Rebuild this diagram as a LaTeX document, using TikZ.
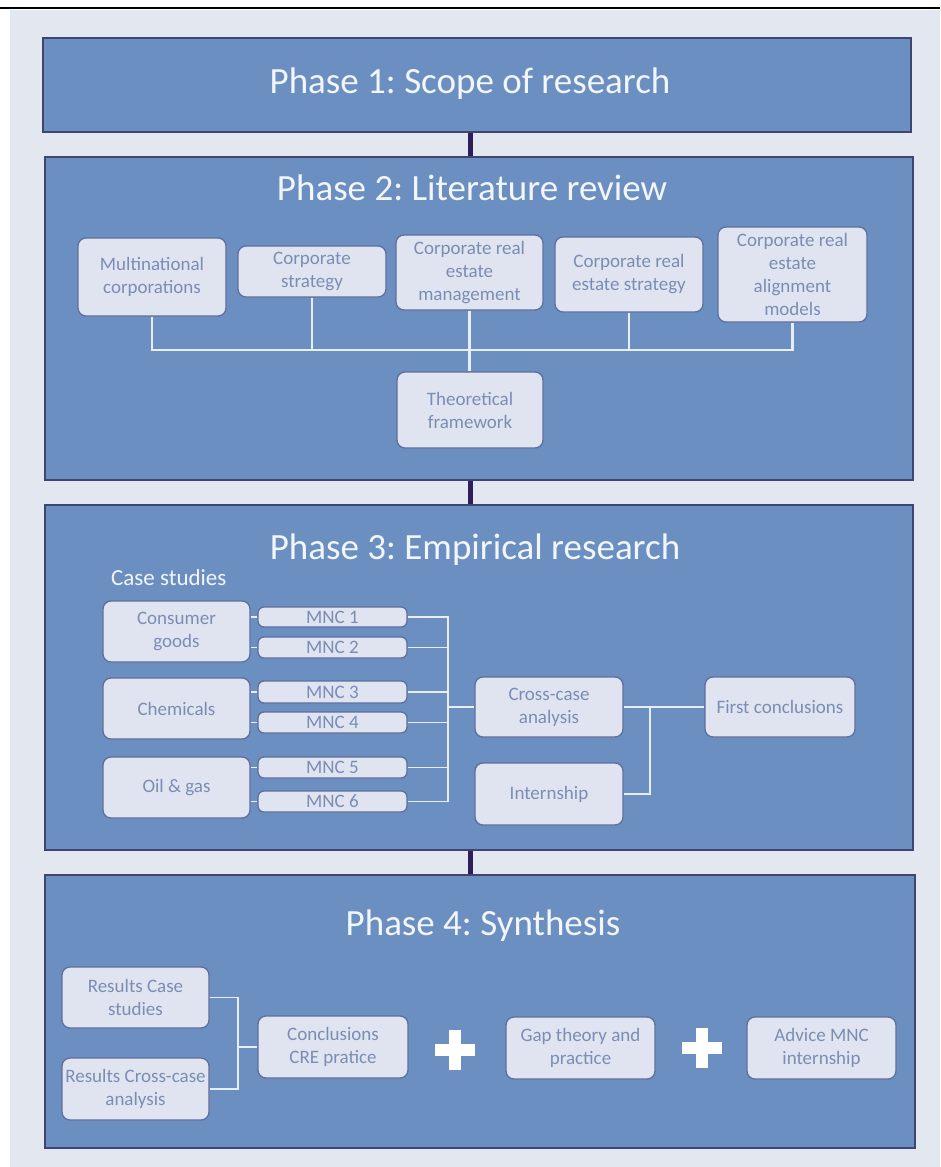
\documentclass[tikz,border=0pt]{standalone}
\usepackage{fontspec}
\setmainfont{Carlito}
\frenchspacing
\usetikzlibrary{fit}
\definecolor{bgcol}{HTML}{E3E8F0}
\definecolor{phasefill}{HTML}{6C8FC1}
\definecolor{phaseborder}{HTML}{3D4570}
\definecolor{nodefill}{HTML}{DFE4F0}
\definecolor{nodeborder}{HTML}{5F6E9C}
\definecolor{nodetext}{HTML}{7B8DB4}
\definecolor{linecol}{HTML}{E8EEF6}
\definecolor{pconncol}{HTML}{2E1E5C}
\definecolor{titlecol}{HTML}{F2F5FA}
\newcommand\bx[7][]{\node[cbox,#1,minimum width={(#5)-(#3)},minimum height={(#6)-(#4)}] (#2) at ({((#3)+(#5))/2},{((#4)+(#6))/2}) {#7};}
\begin{document}
\begin{tikzpicture}[x=1pt,y=-1pt,
  phase/.style={draw=phaseborder, fill=phasefill, line width=1.8pt, inner sep=0pt},
  cbox/.style={draw=nodeborder, fill=nodefill, rounded corners=8pt, line width=1.3pt, inner sep=0pt,
    align=center, text=nodetext, font=\fontsize{19}{23}\selectfont},
  title/.style={text=titlecol, font=\fontsize{37}{40}\selectfont, anchor=base, inner sep=0pt},
  pconn/.style={draw=pconncol, line width=5pt},
  bus/.style={draw=linecol, line width=2.6pt},
  thin/.style={draw=linecol, line width=1.6pt},
  plus/.style={fill=white}]
\useasboundingbox (0,0) rectangle (940,1167);
\fill[white] (0,0) rectangle (940,1167);
\fill[bgcol] (10,10) rectangle (940,1167);
\draw[black, line width=1.5pt] (0,8) -- (940,8);

% phases
\node[phase, fit={(43,38) (911,132)}] (p1) {};
\node[phase, fit={(45,157) (913,480)}] (p2) {};
\node[phase, fit={(45,505) (913,850)}] (p3) {};
\node[phase, fit={(45,875) (915,1148)}] (p4) {};
\coordinate (cx) at (470,0);
\draw[pconn] (p1.south -| cx) -- (p2.north -| cx);
\draw[pconn] (p2.south -| cx) -- (p3.north -| cx);
\draw[pconn] (p3.south -| cx) -- (p4.north -| cx);

\node[title] (t1) at (470,93) {Phase 1: Scope of research};
\node[title] (t2) at (472,200) {Phase 2: Literature review};
\node[title] (t3) at (475,559) {Phase 3: Empirical research};
\node[title] (t4) at (483,935) {Phase 4: Synthesis};

% Phase 2
\bx{m1}{78}{238}{226}{316}{Multinational\\corporations}
\bx{m2}{238}{246}{386}{297}{Corporate\\strategy}
\bx{m3}{396}{235}{543}{310}{Corporate real\\estate\\management}
\bx{m4}{555}{237}{703}{312}{Corporate real\\estate strategy}
\bx{m5}{718}{227}{867}{322}{Corporate real\\estate\\alignment\\models}
\bx{tf}{397}{372}{543}{448}{Theoretical\\framework}
\coordinate (busmid) at (470,350);
\draw[bus] (m1.south) |- (busmid);
\draw[bus] (m5.south) |- (busmid);
\draw[bus] (m2.south) -- (m2.south |- busmid);
\draw[bus] (m4.south) -- (m4.south |- busmid);
\draw[bus] (m3.south) -- (m3.south |- tf.north);

% Phase 3
\node[anchor=base west, inner sep=0pt, text=titlecol, font=\fontsize{23}{26}\selectfont] (cs) at (111,585) {Case studies};
\bx{c1}{103}{601}{250}{662}{Consumer\\goods}
\bx{c2}{103}{678}{250}{739}{Chemicals}
\bx{c3}{103}{757}{250}{818}{Oil \& gas}
\bx[rounded corners=6pt]{n1}{258}{607}{407}{627}{MNC 1}
\bx[rounded corners=6pt]{n2}{258}{637}{407}{658}{MNC 2}
\bx[rounded corners=6pt]{n3}{258}{681}{407}{703}{MNC 3}
\bx[rounded corners=6pt]{n4}{258}{712}{407}{733}{MNC 4}
\bx[rounded corners=6pt]{n5}{258}{757}{407}{778}{MNC 5}
\bx[rounded corners=6pt]{n6}{258}{791}{407}{812}{MNC 6}
\bx{cca}{475}{677}{623}{737}{Cross-case\\analysis}
\bx{int}{475}{763}{623}{825}{Internship}
\bx{fc}{705}{677}{855}{737}{First conclusions}
\draw[thin] (n1.west -| c1.east) -- (n1.west);
\draw[thin] (n2.west -| c1.east) -- (n2.west);
\draw[thin] (n3.west -| c2.east) -- (n3.west);
\draw[thin] (n4.west -| c2.east) -- (n4.west);
\draw[thin] (n5.west -| c3.east) -- (n5.west);
\draw[thin] (n6.west -| c3.east) -- (n6.west);
\coordinate (j3) at (448,707);
\foreach \n in {n1,n2,n3,n4,n5,n6} { \draw[thin] (\n.east) -| (j3); }
\draw[thin] (j3) -- (cca.west);
\draw[thin] (cca.east) -- (fc.west);
\coordinate (j4) at (650,707);
\draw[thin] (int.east) -| (j4);

% Phase 4
\bx{rcs}{62}{967}{209}{1028}{Results Case\\studies}
\bx{rcc}{62}{1058}{209}{1120}{Results Cross-case\\analysis}
\bx{con}{258}{1016}{408}{1078}{Conclusions\\CRE pratice}
\bx{gap}{506}{1017}{655}{1079}{Gap theory and\\practice}
\bx{adv}{747}{1017}{896}{1079}{Advice MNC\\internship}
\coordinate (j5) at (238,1047);
\draw[thin] (rcs.east) -| (j5);
\draw[thin] (rcc.east) -| (j5);
\draw[thin] (j5) -- (con.west);

% plus signs
\fill[plus] (435,1044) rectangle (475,1056);
\fill[plus] (449,1030) rectangle (461,1070);
\fill[plus] (682,1042) rectangle (722,1054);
\fill[plus] (696,1028) rectangle (708,1068);
\end{tikzpicture}
\end{document}
